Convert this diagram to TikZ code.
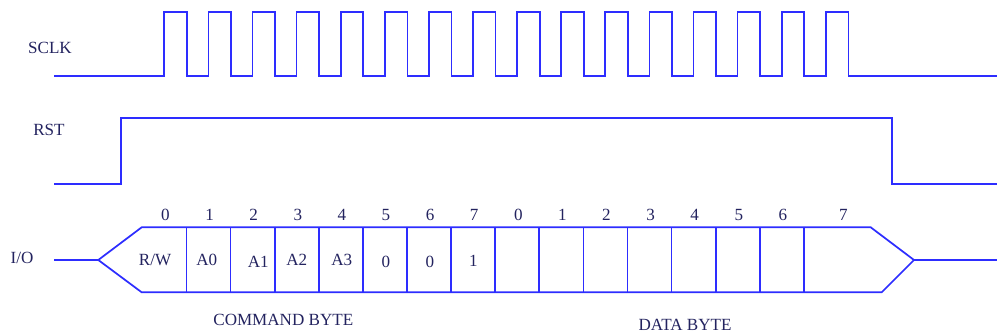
\documentclass[tikz,border=0pt]{standalone}
\usepackage{fontspec}
\setmainfont{Liberation Serif}
\usepackage{tikz}
\definecolor{sigblue}{RGB}{45,45,255}
\definecolor{txtnavy}{RGB}{35,35,95}

\begin{document}
\begin{tikzpicture}[x=0.75pt,y=-0.75pt,
	sig/.style={sigblue, line width=1.3pt},
	lbl/.style={txtnavy, font=\fontsize{12.8}{14}\selectfont, inner sep=0pt}]
	  \useasboundingbox (0,0) rectangle (997,334);
	  % signal names
	  \node[lbl] (sclk) at (50,48) {SCLK};
	  \node[lbl] (rst) at (49,130) {RST};
	  \node[lbl] (io) at (22,258) {I/O};

	  % clock, 16 pulses
	  \draw[sig] (54,76) \foreach \k in {0,...,15}{
	    -- ({164.3+44.1*\k},76) -- ({164.3+44.1*\k},12)
	    -- ({186.9+44.1*\k},12) -- ({186.9+44.1*\k},76)} -- (997,76);

	  % reset
	  \draw[sig] (54,184) -- (120.7,184) -- (120.7,118) -- (892.3,118) -- (892.3,184) -- (997,184);

	  % data line
	  \draw[sig] (54,260) -- (98.3,260) -- (141.7,227.3) -- (870.7,227.3) -- (914,260) -- (997,260);
	  \draw[sig] (98.3,260) -- (141.7,292.3) -- (881.7,292.3) -- (914,260);
	  \foreach \k in {0,...,14}
	    \draw[sig] ({186.5+44.1*\k},227.3) -- ({186.5+44.1*\k},292.3);

	  % bit numbers
	  \foreach \k [evaluate=\k as \b using {int(mod(\k,8))}] in {0,...,14}
	    \node[lbl] (b\k) at ({165.5+44.1*\k},215) {\b};
	  \node[lbl] (b15) at (843.3,215) {7};

	  % command byte
	  \node[lbl] (rw) at (155,260) {R/W};
	  \node[lbl] (a0) at (206.7,260) {A0};
	  \node[lbl] (a1) at (258.3,262) {A1};
	  \node[lbl] (a2) at (296.7,260) {A2};
	  \node[lbl] (a3) at (341.7,260) {A3};
	  \node[lbl] (c5) at (386,262) {0};
	  \node[lbl] (c6) at (430,262) {0};
	  \node[lbl] (c7) at (473.3,261) {1};

	  \node[lbl] (cmd) at (283.3,320) {COMMAND BYTE};
	  \node[lbl] (data) at (685,325) {DATA BYTE};
	\end{tikzpicture}
\end{document}
